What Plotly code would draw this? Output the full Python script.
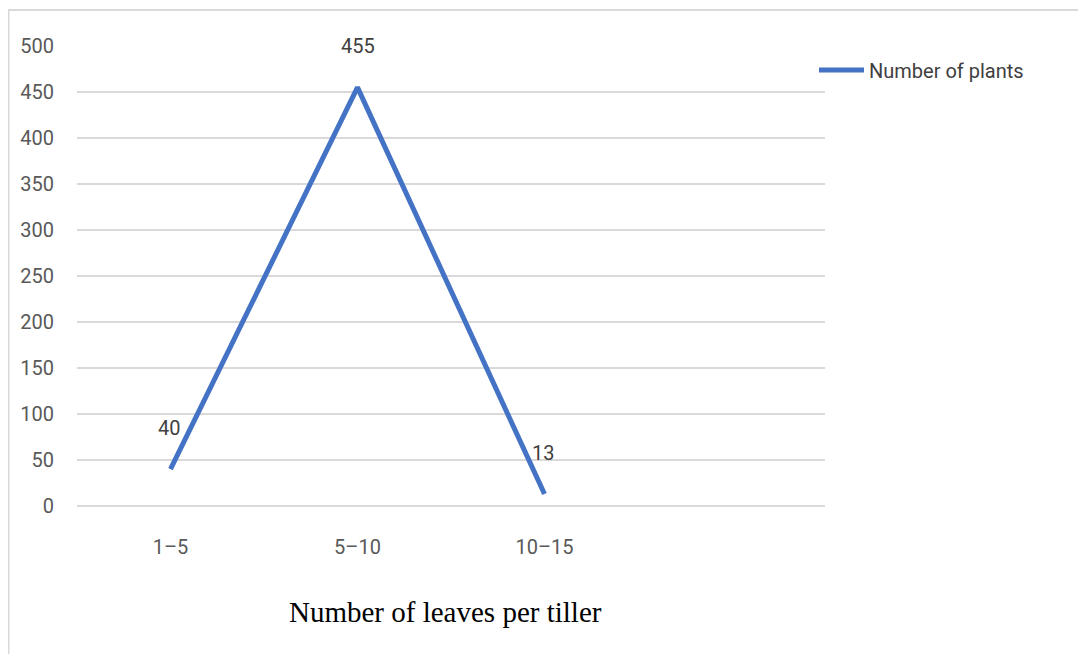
import plotly.graph_objects as go

categories = ["1–5", "5–10", "10–15"]
plants = [40, 455, 13]
series_name = "Number of plants"
x_title = "Number of leaves per tiller"
y_ticks = [0, 50, 100, 150, 200, 250, 300, 350, 400, 450, 500]

xpos = list(range(len(categories)))
sans = "Roboto, Lato, sans-serif"

# page is offset by the 8px body margin; figure coords = page coords - 8
L, T, PW, PH = 69, 38, 748, 460
W, H = 1086, 654

fig = go.Figure()
fig.add_trace(go.Scatter(
    x=xpos, y=plants, mode="lines", name=series_name,
    line=dict(color="#4472C4", width=5),
))

for xi, v in zip(xpos, plants):
    fig.add_annotation(x=xi, y=v, text=str(v), showarrow=False,
                       xref="x", yref="y", yshift=41, xshift=-2 if v == 40 else (-2 if v == 13 else 0),
                       font=dict(family=sans, size=20, color="#404040"))

fig.add_annotation(x=(437 - L) / PW, y=(PH + T - 604) / PH, xref="paper", yref="paper",
                   yanchor="middle", text=x_title, showarrow=False,
                   font=dict(family="Liberation Serif, Times New Roman, serif", size=29, color="#000000"))

fig.update_layout(
    width=W, height=H,
    margin=dict(l=L, r=W - L - PW, t=T, b=H - T - PH),
    paper_bgcolor="white", plot_bgcolor="white",
    showlegend=True,
    legend=dict(x=(806 - L) / PW, y=(PH + T - 62) / PH, xanchor="left", yanchor="middle",
                font=dict(family=sans, size=20, color="#404040"),
                bgcolor="rgba(0,0,0,0)", itemwidth=45),
    xaxis=dict(range=[-0.5, 3.5], tickvals=xpos, ticktext=categories,
               showgrid=False, zeroline=False, showline=False, ticks="",
               ticklabelstandoff=27,
               tickfont=dict(family=sans, size=20, color="#595959")),
    yaxis=dict(range=[0, 500], tickvals=y_ticks, showgrid=True,
               gridcolor="#d9d9d9", gridwidth=2, zeroline=True,
               zerolinecolor="#d9d9d9", zerolinewidth=2, showline=False,
               ticks="", ticklabelstandoff=22,
               tickfont=dict(family=sans, size=20, color="#595959")),
    shapes=[
        dict(type="line", xref="paper", yref="paper",
             x0=(0 - L) / PW, x1=(W - L) / PW,
             y0=(PH + T - 2) / PH, y1=(PH + T - 2) / PH,
             line=dict(color="#d9d9d9", width=2)),
        dict(type="line", xref="paper", yref="paper",
             x0=(0.5 - L) / PW, x1=(0.5 - L) / PW,
             y0=(PH + T - 2) / PH, y1=(PH + T - H) / PH,
             line=dict(color="#d9d9d9", width=2)),
    ],
)

fig.write_html("out.html")
